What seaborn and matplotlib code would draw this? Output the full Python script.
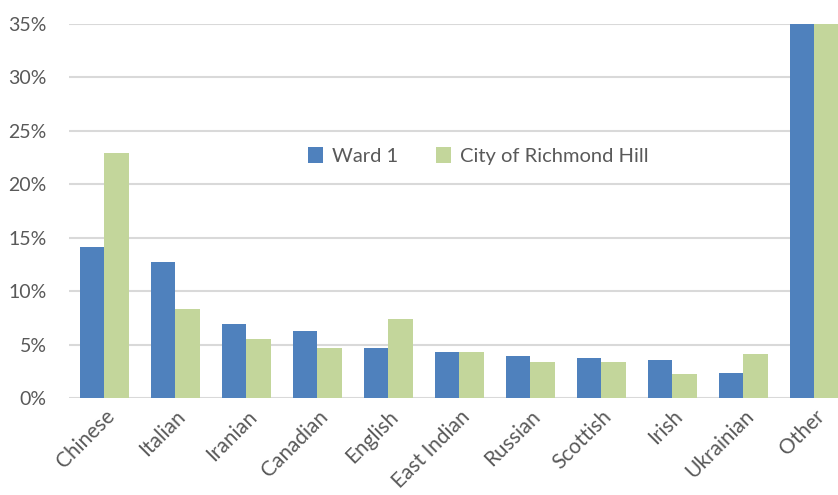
import pandas as pd
import matplotlib.pyplot as plt
import matplotlib.ticker as mticker
import seaborn as sns

sns.set_theme(style="white")
plt.rcParams["font.family"] = ["Lato", "DejaVu Sans"]

categories = ["Chinese", "Italian", "Iranian", "Canadian", "English", "East Indian",
              "Russian", "Scottish", "Irish", "Ukrainian", "Other"]
ward1 = [0.141, 0.127, 0.069, 0.063, 0.047, 0.043, 0.039, 0.037, 0.036, 0.023, 0.375]
richmond = [0.229, 0.083, 0.055, 0.047, 0.074, 0.043, 0.034, 0.034, 0.022, 0.041, 0.360]
series = ["Ward 1", "City of Richmond Hill"]
colors = ["#4F81BD", "#C3D69B"]

df = pd.DataFrame({
    "origin": categories * 2,
    "share": ward1 + richmond,
    "area": [series[0]] * len(categories) + [series[1]] * len(categories),
})

fig = plt.figure(figsize=(8.38, 4.95), dpi=100)
ax = fig.add_axes([0.0823, 0.196, 0.932, 0.7556])
sns.barplot(data=df, x="origin", y="share", hue="area", palette=colors,
            width=0.7, saturation=1, ax=ax, linewidth=0)

ax.set_ylim(0, 0.35)
ax.set_xlim(-0.5, len(categories) - 0.5)
ax.yaxis.set_major_locator(mticker.MultipleLocator(0.05))
ax.yaxis.set_major_formatter(mticker.FuncFormatter(lambda v, _: f"{v*100:.0f}%"))
ax.grid(axis="y", color="#D9D9D9", linewidth=1.5)
ax.set_axisbelow(True)
for s in ax.spines.values():
    s.set_visible(False)
ax.set_xlabel(""); ax.set_ylabel("")
ax.tick_params(axis="y", labelsize=14, colors="#595959", length=0, pad=16)
ax.tick_params(axis="x", labelsize=15, colors="#595959", length=0, pad=6)
plt.setp(ax.get_xticklabels(), rotation=45, ha="right", rotation_mode="anchor")

ax.legend(loc="center", bbox_to_anchor=(0.524, 0.647), ncol=2, frameon=False,
          fontsize=14.5, labelcolor="#595959", handlelength=0.75, handleheight=0.8,
          columnspacing=1.9, handletextpad=0.45)

fig.savefig("out.png", dpi=100)
